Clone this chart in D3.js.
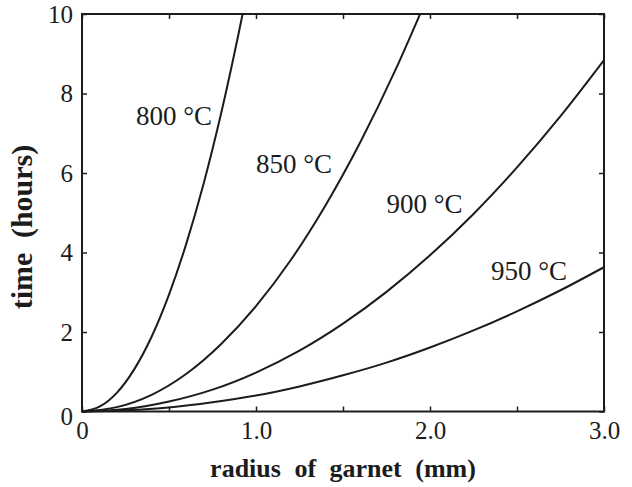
<!DOCTYPE html>
<html>
<head>
<meta charset="utf-8">
<script src="https://cdn.jsdelivr.net/npm/d3@7"></script>
<style>
  body { margin: 0; background: #fff; }
  svg, svg text { font-family: "Liberation Serif", "Times New Roman", Times, "DejaVu Serif", serif; }
</style>
</head>
<body>
<div id="chart"></div>
<script>
// curves: radius (mm), time (hours)
const r800 = [0, 0.1, 0.2, 0.3, 0.4, 0.5, 0.6, 0.7, 0.8, 0.9, 0.923];
const t800 = [0, 0.12, 0.47, 1.06, 1.88, 2.94, 4.23, 5.75, 7.51, 9.51, 10];

const r850 = [0, 0.2, 0.4, 0.6, 0.8, 1.0, 1.2, 1.4, 1.6, 1.8, 1.943];
const t850 = [0, 0.11, 0.42, 0.95, 1.70, 2.65, 3.81, 5.19, 6.78, 8.58, 10];

const r900 = [0, 0.25, 0.5, 0.75, 1.0, 1.25, 1.5, 1.75, 2.0, 2.25, 2.5, 2.75, 3.0];
const t900 = [0, 0.06, 0.25, 0.55, 0.98, 1.53, 2.21, 3.01, 3.93, 4.97, 6.14, 7.43, 8.84];

const r950 = [0, 0.25, 0.5, 0.75, 1.0, 1.25, 1.5, 1.75, 2.0, 2.25, 2.5, 2.75, 3.0];
const t950 = [0, 0.03, 0.10, 0.23, 0.40, 0.63, 0.91, 1.23, 1.61, 2.04, 2.52, 3.05, 3.63];

const curveNames = ["800 °C", "850 °C", "900 °C", "950 °C"];

const xTicks = [0, 0.5, 1.0, 1.5, 2.0, 2.5, 3.0];
const xTickLabels = ["0", "", "1.0", "", "2.0", "", "3.0"];
const yTicks = [0, 2, 4, 6, 8, 10];
const yTickLabels = ["0", "2", "4", "6", "8", "10"];

const margin = { top: 14, right: 28, bottom: 75.5, left: 82 };
const width = 632 - margin.left - margin.right;
const height = 487 - margin.top - margin.bottom;

const serif = '"Liberation Serif", "Times New Roman", Times, "DejaVu Serif", serif';

const svg = d3.select("#chart")
  .append("svg")
    .attr("width", 632)
    .attr("height", 487)
  .append("g")
    .attr("transform", `translate(${margin.left},${margin.top})`);

const x = d3.scaleLinear().domain([0, 3]).range([0, width]);
const y = d3.scaleLinear().domain([0, 10]).range([height, 0]);

const ink = "#1c1c1c";

// axes, ticks pointing inward on all four sides
svg.append("g")
  .attr("transform", `translate(0,${height})`)
  .call(d3.axisBottom(x).tickValues(xTicks).tickSize(-5).tickPadding(10)
    .tickFormat((d, i) => xTickLabels[i]));

const left = svg.append("g")
  .call(d3.axisLeft(y).tickValues(yTicks).tickSize(-5).tickPadding(9)
    .tickFormat((d, i) => yTickLabels[i]));

svg.append("g")
  .call(d3.axisTop(x).tickValues(xTicks).tickSize(-5).tickFormat(""));

svg.append("g")
  .attr("transform", `translate(${width},0)`)
  .call(d3.axisRight(y).tickValues(yTicks).tickSize(-5).tickFormat(""));

svg.selectAll("g").attr("font-family", serif);
svg.selectAll(".domain").remove();
svg.selectAll(".tick line").attr("stroke", ink).attr("stroke-width", 1.5);
svg.selectAll(".tick text")
  .attr("font-size", 25)
  .attr("fill", ink);

// the "0" on the y axis sits a little low
left.selectAll(".tick text").filter(d => d === 0).attr("dy", "0.5em");

// frame
svg.append("rect")
  .attr("x", 0).attr("y", 0)
  .attr("width", width).attr("height", height)
  .attr("fill", "none")
  .attr("stroke", ink)
  .attr("stroke-width", 2);

// curves
const series = [
  r800.map((r, i) => [r, t800[i]]),
  r850.map((r, i) => [r, t850[i]]),
  r900.map((r, i) => [r, t900[i]]),
  r950.map((r, i) => [r, t950[i]])
];

const line = d3.line()
  .x(d => x(d[0]))
  .y(d => y(d[1]))
  .curve(d3.curveMonotoneX);

svg.selectAll(".curve")
  .data(series)
  .enter()
  .append("path")
    .attr("class", "curve")
    .attr("fill", "none")
    .attr("stroke", ink)
    .attr("stroke-width", 2)
    .attr("d", line);

// curve labels (radius, time of the text's left baseline)
const labelPos = [[0.31, 7.2], [1.0, 6.0], [1.75, 5.0], [2.35, 3.3]];

svg.selectAll(".clabel")
  .data(curveNames)
  .enter()
  .append("text")
    .attr("class", "clabel")
    .attr("x", (d, i) => x(labelPos[i][0]))
    .attr("y", (d, i) => y(labelPos[i][1]))
    .attr("font-family", serif)
    .attr("font-size", 27)
    .attr("fill", ink)
    .text(d => d);

// axis titles
svg.append("text")
  .attr("x", width / 2)
  .attr("y", height + 65)
  .attr("text-anchor", "middle")
  .attr("font-family", serif)
  .attr("font-size", 26)
  .attr("font-weight", "bold")
  .attr("word-spacing", 7)
  .attr("fill", ink)
  .text("radius of garnet (mm)");

svg.append("text")
  .attr("transform", "rotate(-90)")
  .attr("x", -(227 - margin.top))
  .attr("y", -50)
  .attr("text-anchor", "middle")
  .attr("font-family", serif)
  .attr("font-size", 30)
  .attr("font-weight", "bold")
  .attr("word-spacing", 7)
  .attr("fill", ink)
  .text("time (hours)");
</script>
</body>
</html>
